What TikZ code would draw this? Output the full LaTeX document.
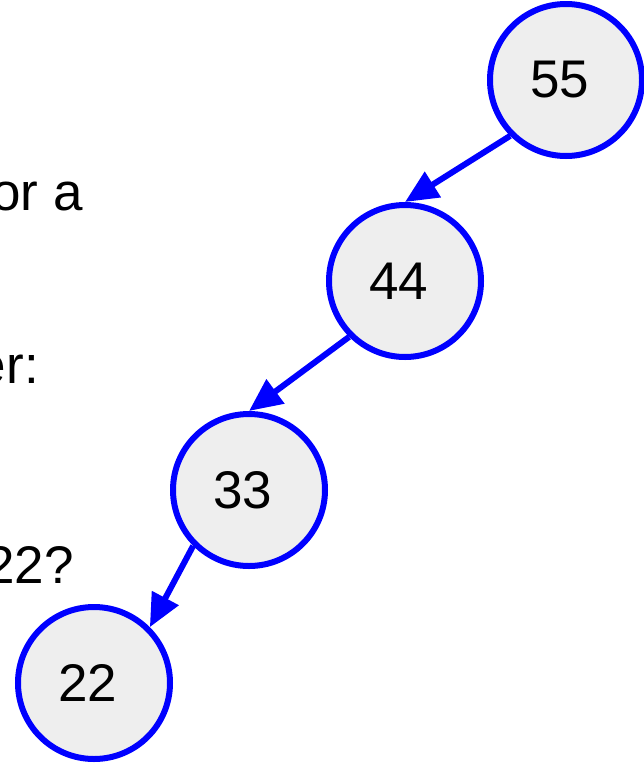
\documentclass[tikz,border=0pt]{standalone}
\usepackage{fontspec}
\setmainfont{Liberation Sans}
\usepackage{tikz}
\usetikzlibrary{arrows.meta}
\definecolor{keyfill}{HTML}{EEEEEE}
\definecolor{keyblue}{RGB}{0,0,255}

\begin{document}
\begin{tikzpicture}[x=1pt,y=-1pt,
    key/.style={circle,draw=keyblue,fill=keyfill,line width=6pt,minimum size=152pt,inner sep=0pt,font=\fontsize{53}{63}\selectfont,execute at end node=\kern13pt},
    side/.style={anchor=base east,inner sep=0pt,font=\fontsize{53}{63}\selectfont},
    link/.style={draw=keyblue,line width=6pt,-{Triangle[length=33pt,width=29pt]}}]
      \useasboundingbox (0,0) rectangle (644,763);
      \clip (0,0) rectangle (644,763);
      \node at (83,210) [side] (E) {or a};
      \node at (39,383) [side] (F) {er:};
      \node at (74,583) [side] (G) {22?};
      \node at (566,80) [key] (A) {55};
      \node at (405,281) [key] (B) {44};
      \node at (249,490) [key] (C) {33};
      \node at (94,683) [key] (D) {22};
      \draw[link] (A.south west) -- (B.north);
      \draw[link] (B.south west) -- (C.north);
      \draw[link] (C.south west) -- (D.north east);
    \end{tikzpicture}
\end{document}
